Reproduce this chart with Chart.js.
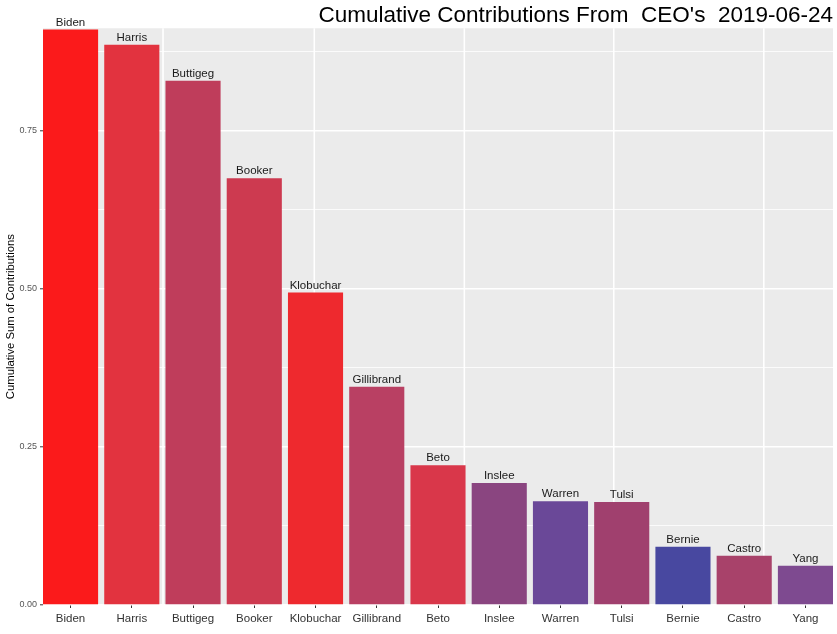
<!DOCTYPE html>
<html>
<head>
<meta charset="utf-8">
<script src="https://cdn.jsdelivr.net/npm/chart.js@4"></script>
<style>
  html, body { margin: 0; padding: 0; background: #fff; }
  #wrap { width: 837px; height: 634px; }
</style>
</head>
<body>
<div id="wrap"><canvas id="chart"></canvas></div>
<script>
const candidates = ['Biden', 'Harris', 'Buttigeg', 'Booker', 'Klobuchar', 'Gillibrand', 'Beto',
  'Inslee', 'Warren', 'Tulsi', 'Bernie', 'Castro', 'Yang'];
const cumulativeSum = [0.910, 0.886, 0.829, 0.675, 0.494, 0.345, 0.221, 0.193, 0.164, 0.163, 0.092, 0.078, 0.062];
const barColors = ['#fb1a1b', '#e2333f', '#bf3d5b', '#cd3a50', '#ee292e', '#b94063', '#d9374a',
  '#8a4580', '#6a4898', '#a0406e', '#4848a0', '#a8426a', '#7e4a90'];
const yTicks = [0, 0.25, 0.5, 0.75];
const yMinorTicks = [0.125, 0.375, 0.625, 0.875];
const xGridBreaks = [2.51, 4.98, 7.43, 9.87, 12.32];

const FONT = "'Liberation Sans', Arial, sans-serif";

// grey ggplot-style panel + the vertical white grid lines
const panelBg = {
  id: 'panelBg',
  beforeDraw(chart) {
    const { ctx, chartArea: a } = chart;
    const xs = chart.scales.x;
    ctx.save();
    ctx.fillStyle = '#ebebeb';
    ctx.fillRect(a.left, a.top, a.right - a.left, a.bottom - a.top);
    ctx.strokeStyle = '#ffffff';
    ctx.lineWidth = 1.6;
    xGridBreaks.forEach(v => {
      const px = xs.getPixelForValue(v);
      ctx.beginPath();
      ctx.moveTo(px, a.top);
      ctx.lineTo(px, a.bottom);
      ctx.stroke();
    });
    ctx.restore();
  }
};

// name above each bar
const barLabels = {
  id: 'barLabels',
  afterDraw(chart) {
    const { ctx } = chart;
    const meta = chart.getDatasetMeta(0);
    ctx.save();
    ctx.font = '11.5px ' + FONT;
    ctx.fillStyle = '#1a1a1a';
    ctx.textAlign = 'center';
    ctx.textBaseline = 'alphabetic';
    meta.data.forEach((bar, i) => {
      ctx.fillText(candidates[i], bar.x, bar.y - 4);
    });
    ctx.restore();
  }
};

new Chart(document.getElementById('chart'), {
  type: 'bar',
  data: {
    datasets: [{
      data: candidates.map((c, i) => ({ x: i + 1, y: cumulativeSum[i] })),
      backgroundColor: barColors,
      borderWidth: 0,
      categoryPercentage: 1.0,
      barPercentage: 0.9
    }]
  },
  options: {
    responsive: true,
    maintainAspectRatio: false,
    animation: false,
    devicePixelRatio: 1,
    layout: { padding: { left: 0, right: 4, top: 0, bottom: 0 } },
    plugins: {
      legend: { display: false },
      tooltip: { enabled: false },
      title: {
        display: true,
        text: "Cumulative Contributions From  CEO's  2019-06-24",
        align: 'end',
        color: '#000',
        font: { family: FONT, size: 22.5, weight: 'normal', lineHeight: 1.1 },
        padding: { top: 3.5, bottom: 0 }
      }
    },
    scales: {
      x: {
        type: 'linear',
        min: 0.55,
        max: 13.45,
        offset: false,
        afterBuildTicks(scale) {
          scale.ticks = candidates.map((c, i) => ({ value: i + 1 }));
        },
        afterFit(scale) { scale.height = 29; },
        border: { display: false },
        grid: {
          offset: false,
          drawOnChartArea: false,
          drawTicks: true,
          tickLength: 3,
          tickColor: '#333',
          tickWidth: 1
        },
        ticks: {
          autoSkip: false,
          maxRotation: 0,
          padding: 4,
          color: '#333',
          font: { family: FONT, size: 11.5 },
          callback: v => candidates[v - 1] || ''
        }
      },
      y: {
        min: 0,
        max: 0.912,
        afterBuildTicks(scale) {
          scale.ticks = yTicks.concat(yMinorTicks).sort((a, b) => a - b).map(v => ({ value: v }));
        },
        afterFit(scale) { scale.width = 43; },
        border: { display: false },
        grid: {
          color: '#ffffff',
          lineWidth: c => yMinorTicks.includes(c.tick.value) ? 0.8 : 1.6,
          drawTicks: true,
          tickLength: 3,
          tickColor: c => yMinorTicks.includes(c.tick.value) ? 'rgba(0,0,0,0)' : '#333',
          tickWidth: 1
        },
        ticks: {
          padding: 3,
          color: '#555',
          font: { family: FONT, size: 9 },
          callback: v => yTicks.includes(v) ? v.toFixed(2) : ''
        },
        title: {
          display: true,
          text: 'Cumulative Sum of Contributions',
          color: '#000',
          font: { family: FONT, size: 11.3 },
          padding: { top: 4, bottom: 0 }
        }
      }
    }
  },
  plugins: [panelBg, barLabels]
});
</script>
</body>
</html>
